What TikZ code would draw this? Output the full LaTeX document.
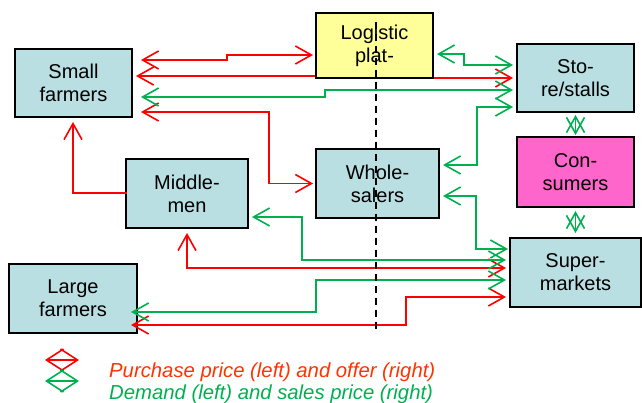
\documentclass[tikz,border=0pt]{standalone}
\usepackage{fontspec}
\setmainfont{Liberation Sans}
\usetikzlibrary{arrows.meta,calc,backgrounds}
\definecolor{boxblue}{RGB}{185,223,227}
\definecolor{platyellow}{RGB}{255,255,153}
\definecolor{conspink}{RGB}{255,102,204}
\definecolor{flowred}{RGB}{255,0,0}
\definecolor{flowgreen}{RGB}{0,176,80}
\definecolor{legendred}{RGB}{255,51,0}

\begin{document}
\begin{tikzpicture}[x=1pt,y=-1pt,
  >={Straight Barb[length=16pt,width=18pt]},
  actor/.style={draw=black,line width=1.6pt,fill=boxblue,inner sep=0pt,outer sep=0pt,
    align=center,font=\fontsize{20}{23}\selectfont,minimum width=117pt,minimum height=68pt},
  offerline/.style={draw=flowred,line width=1.6pt},
  offer/.style={offerline,<->},
  demand/.style={draw=flowgreen,line width=1.6pt,<->},
  cut/.style={draw=black,line width=1.6pt,dash pattern=on 7pt off 5pt},
  legendtext/.style={anchor=base west,inner sep=0pt,font=\itshape\fontsize{20.3}{22}\selectfont}]
\useasboundingbox (0,0) rectangle (642,403);

% actors
\node[actor] (small) at (73.5,83) {Small\\farmers};
\node[actor,fill=platyellow,minimum height=65pt] (logistic) at (374.5,45.5) {Logistic\\plat-};
\node[actor] (store) at (575.5,78) {Sto-\\re/stalls};
\node[actor,fill=conspink,minimum height=70pt] (consumers) at (575.5,172) {Con-\\sumers};
\node[actor,minimum width=131pt,minimum height=69pt] (super) at (575.5,272.5) {Super-\\markets};
\node[actor,minimum width=123pt,minimum height=69pt] (whole) at (377.5,183.5) {Whole-\\salers};
\node[actor,minimum width=122pt,minimum height=69pt] (middle) at (187,193.5) {Middle-\\men};
\node[actor,minimum width=128pt,minimum height=69pt] (large) at (73,298.5) {Large\\farmers};

% purchase price / offer
\draw[offer] ($(small.east)+(9,-23)$) -- (227,60) |- ($(logistic.west)+(-3,9.5)$);
\begin{pgfonlayer}{background}
\draw[offer] ($(small.east)+(4,-7)$) -| (322,78) -- ($(store.west)+(-4,0)$);
\end{pgfonlayer}
\draw[offer] ($(small.east)+(9,29)$) -| (269,183.5) -- ($(whole.west)+(-3,0)$);
\draw[offerline,->] ($(middle.west)+(0.5,-0.5)$) -- (73,193) -- ($(small.south)+(-0.5,5)$);
\draw[offer] ($(middle.south)+(0,5)$) |- ($(super.west)+(-4,-4.5)$);
\draw[offer] ($(large.east)+(-6,26.5)$) -| (406,297) -- ($(super.west)+(-4,24.5)$);

% demand / sales price
\draw[demand] ($(small.east)+(9,14)$) -| (325,90) -- ($(store.west)+(-4,12)$);
\draw[demand] ($(logistic.east)+(4,8.5)$) -| (464,65) -- ($(store.west)+(-4,-13)$);
\draw[demand] ($(store.west)+(-4,29)$) -| (477,165) -- ($(whole.east)+(4,-18.5)$);
\draw[demand] ($(whole.east)+(4,12.5)$) -| (476,249) -- ($(super.west)+(-2,-23.5)$);
\draw[demand] ($(middle.east)+(4,23.5)$) -| (302,260) -- ($(super.west)+(-4,-12.5)$);
\draw[demand] ($(large.east)+(-6,13.5)$) -| (316,280) -- ($(super.west)+(-4,7.5)$);
\draw[demand] ($(store.south)+(0,3)$) -- ($(consumers.north)+(0,-2)$);
\draw[demand] ($(consumers.south)+(0,4)$) -- ($(super.north)+(0,-5)$);

% cut line
\coordinate (cuttop) at (376,22);
\coordinate (cutbottom) at (376,330);
\draw[cut] (cuttop) -- (cutbottom);

% legend
\draw[offer,>={Straight Barb[length=17pt,width=22pt]}] (45,360) -- (79,360);
\draw[demand,>={Straight Barb[length=17pt,width=22pt]}] (45,381) -- (79,381);
\node[legendtext,text=legendred] (offerkey) at (109,377) {Purchase price (left) and offer (right)};
\node[legendtext,text=flowgreen] (demandkey) at (109,399) {Demand (left) and sales price (right)};
\end{tikzpicture}
\end{document}
